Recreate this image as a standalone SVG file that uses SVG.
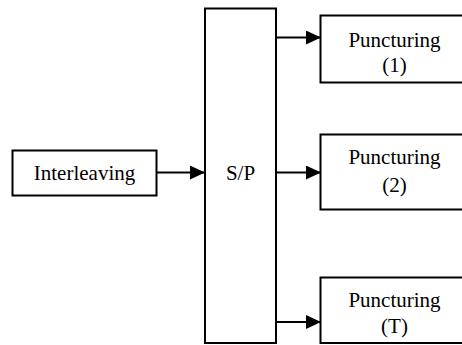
<svg xmlns="http://www.w3.org/2000/svg" width="462" height="345" viewBox="0 0 462 345">
<defs>
<style>
.box{fill:#fff;stroke:#000;stroke-width:2}
.t{font-family:'Liberation Serif','Times New Roman','DejaVu Serif',serif;font-size:21px;fill:#000;text-anchor:middle}
.c{stroke:#000;stroke-width:2;fill:none}
</style>
<marker id="ah" markerWidth="15" markerHeight="14" refX="15" refY="7" orient="auto" markerUnits="userSpaceOnUse">
<path d="M0,0 L15,7 L0,14 Z" fill="#000"/>
</marker>
</defs>
<rect width="462" height="345" fill="#fff"/>
<g id="connectors">
<line class="c" x1="157" y1="172.5" x2="205" y2="172.5" marker-end="url(#ah)"/>
<line class="c" x1="276" y1="37.5" x2="321" y2="37.5" marker-end="url(#ah)"/>
<line class="c" x1="276" y1="172.5" x2="321" y2="172.5" marker-end="url(#ah)"/>
<line class="c" x1="276" y1="322" x2="321" y2="322" marker-end="url(#ah)"/>
</g>
<g id="interleaving">
<rect class="box" x="12.5" y="150.5" width="144" height="45"/>
<text class="t" x="84.5" y="180">Interleaving</text>
</g>
<g id="sp">
<rect class="box" x="205" y="8.5" width="71" height="334.5"/>
<text class="t" x="240.5" y="180">S/P</text>
</g>
<g id="punct1">
<rect class="box" x="320.5" y="15.5" width="145" height="67"/>
<text class="t" x="394.5" y="47">Puncturing</text>
<text class="t" x="394.5" y="72">(1)</text>
</g>
<g id="punct2">
<rect class="box" x="320.5" y="134.5" width="145" height="75"/>
<text class="t" x="394.5" y="164">Puncturing</text>
<text class="t" x="394.5" y="192">(2)</text>
</g>
<g id="punctT">
<rect class="box" x="320.5" y="277.5" width="145" height="65.5"/>
<text class="t" x="394.5" y="307">Puncturing</text>
<text class="t" x="394.5" y="333">(T)</text>
</g>
</svg>
